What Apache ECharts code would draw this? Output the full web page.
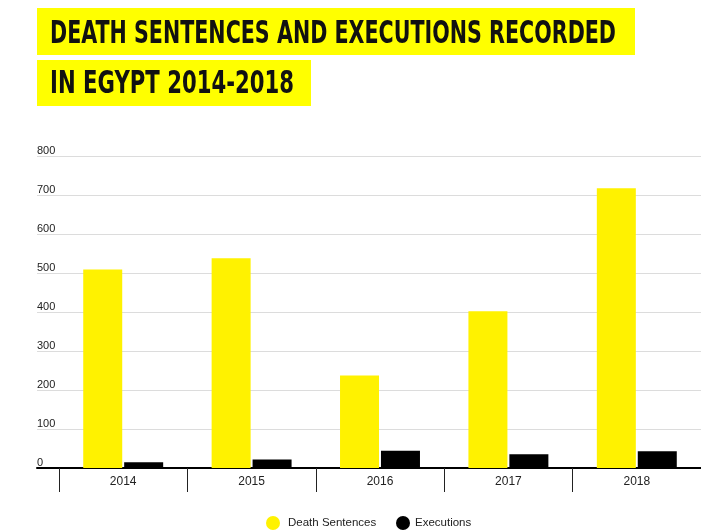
<!DOCTYPE html>
<html>
<head>
<meta charset="utf-8">
<script src="https://cdn.jsdelivr.net/npm/echarts@6/dist/echarts.min.js"></script>
<style>
  html, body { margin: 0; padding: 0; background: #fff; }
  #chart { width: 701px; height: 531px; }
</style>
</head>
<body>
<div id="chart"></div>
<script>
// data
const years = ['2014', '2015', '2016', '2017', '2018']
const deathSentences = [509, 538, 237, 402, 717]
const executions = [15, 22, 44, 35, 43]
const yTicks = { min: 0, max: 800, interval: 100 }
const titleLines = ['DEATH SENTENCES AND EXECUTIONS RECORDED', 'IN EGYPT 2014-2018']

const YELLOW = '#ffff00'
const BAR_YELLOW = '#fff200'
const titleFamily = '"Liberation Sans Narrow", "DejaVu Sans Condensed", sans-serif'
const labelFont = 'Liberation Sans, Arial, sans-serif'

// the original title uses a condensed display face: size ours to the same cap height,
// then squeeze it to the same width
const ctx = document.createElement('canvas').getContext('2d')
ctx.textBaseline = 'middle'
ctx.font = 'bold 100px ' + titleFamily
const capM = ctx.measureText('H')
const capRatio = (capM.actualBoundingBoxAscent + capM.actualBoundingBoxDescent) / 100
const titleSize = 23.5 / capRatio
const titleFont = 'bold ' + titleSize.toFixed(2) + 'px ' + titleFamily
ctx.font = titleFont
const capAbove = ctx.measureText('H').actualBoundingBoxAscent

function squeeze(text, targetWidth) {
  return targetWidth / ctx.measureText(text).width
}

const chart = echarts.init(document.getElementById('chart'))

chart.setOption({
  animation: false,
  graphic: [
    // title boxes
    { type: 'rect', left: 37, top: 8, shape: { width: 598, height: 47 }, style: { fill: YELLOW } },
    { type: 'rect', left: 37, top: 60, shape: { width: 274, height: 46 }, style: { fill: YELLOW } },
    {
      type: 'text', x: 50, y: 19.5 + capAbove, scaleX: squeeze(titleLines[0], 566),
      style: { text: titleLines[0], fill: '#111', font: titleFont, verticalAlign: 'middle' }
    },
    {
      type: 'text', x: 50, y: 70 + capAbove, scaleX: squeeze(titleLines[1], 244),
      style: { text: titleLines[1], fill: '#111', font: titleFont, verticalAlign: 'middle' }
    }
  ],
  legend: [
    {
      left: 266,
      top: 516,
      padding: 0,
      icon: 'circle',
      itemWidth: 20,
      itemHeight: 14,
      textStyle: { fontFamily: labelFont, fontSize: 11.5, color: '#222' },
      data: ['Death Sentences']
    },
    {
      left: 396,
      top: 516,
      padding: 0,
      icon: 'circle',
      itemWidth: 14,
      itemHeight: 14,
      textStyle: { fontFamily: labelFont, fontSize: 11.5, color: '#222' },
      data: ['Executions']
    }
  ],
  grid: [
    // grid for the horizontal lines and the axis line
    { left: 37, right: 0, top: 156, bottom: 63 },
    // grid for the bars and category ticks
    { left: 59, right: -3, top: 156, bottom: 63 }
  ],
  xAxis: [
    {
      gridIndex: 0,
      type: 'category',
      data: years,
      axisLine: { show: true, lineStyle: { color: '#000', width: 2 } },
      axisTick: { show: false },
      axisLabel: { show: false }
    },
    {
      gridIndex: 1,
      type: 'category',
      data: years,
      axisLine: { show: false },
      axisTick: { show: true, length: 24, lineStyle: { color: '#222', width: 1 } },
      axisLabel: { margin: 8, fontFamily: labelFont, fontSize: 12, color: '#222' }
    }
  ],
  yAxis: [
    {
      gridIndex: 0,
      type: 'value',
      min: yTicks.min,
      max: yTicks.max,
      interval: yTicks.interval,
      axisLine: { show: false },
      axisTick: { show: false },
      splitLine: { lineStyle: { color: '#dcdcdc', width: 1 } },
      axisLabel: {
        inside: true,
        margin: 0,
        align: 'left',
        verticalAlign: 'bottom',
        lineHeight: 11,
        fontFamily: labelFont,
        fontSize: 11,
        color: '#222'
      }
    },
    {
      gridIndex: 1,
      type: 'value',
      min: yTicks.min,
      max: yTicks.max,
      interval: yTicks.interval,
      show: false
    }
  ],
  series: [
    {
      name: 'Death Sentences',
      type: 'bar',
      xAxisIndex: 1,
      yAxisIndex: 1,
      data: deathSentences,
      barWidth: 39,
      barGap: '5%',
      itemStyle: { color: BAR_YELLOW }
    },
    {
      name: 'Executions',
      type: 'bar',
      xAxisIndex: 1,
      yAxisIndex: 1,
      data: executions,
      barWidth: 39,
      barGap: '5%',
      itemStyle: { color: '#000' }
    }
  ]
})
</script>
</body>
</html>
